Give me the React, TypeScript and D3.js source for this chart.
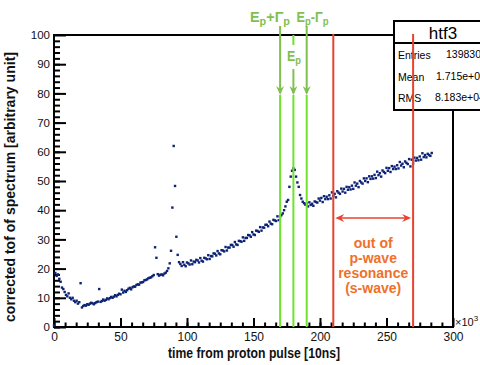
import React, { useEffect, useRef } from "react";
import * as d3 from "d3";

// spectrum bins, one per 1e3 x 10ns starting at 0
const binStart = 0;
const counts = [
  0.5, 18.5, 17.5, 18, 16.5, 15.5, 13.5, 13, 12, 11,
  10.5, 11.5, 10, 9.5, 10, 9, 8.5, 9, 8, 8.5,
  15, 6.7, 7.2, 7.5, 7.3, 7.8, 7.6, 8.0, 8.3, 8.1,
  7.8, 8.2, 8.5, 8.7, 13, 8.6, 8.9, 9.4, 9.0, 9.3,
  9.8, 9.5, 9.9, 10.3, 10.0, 10.4, 10.9, 10.5, 11.0, 11.4,
  11.2, 12.8, 11.8, 12.4, 12.0, 12.6, 13.1, 13.4, 12.9, 13.6,
  13.9, 13.8, 14.4, 14.6, 14.5, 15.2, 15.3, 15.4, 16.0, 16.1,
  16.3, 16.7, 16.9, 17.0, 17.4, 17.8, 27.3, 23.7, 18.1, 17.6,
  17.9, 18.0, 17.7, 18.3, 18.6, 19.2, 20.1, 21.8, 26.1, 40.9,
  62, 48.3, 30.9, 24.7, 22.2,
  21.6, 20.9, 22.2, 21.3, 20.8, 22.1, 21.8, 21.4, 22.8, 21.5,
  22.4, 22.2, 23.0, 22.8, 22.1, 23.6, 22.7, 22.4, 23.7, 23.5,
  23.2, 24.6, 23.3, 24.3, 24.2, 25.2, 25.1, 24.5, 26.0, 25.2,
  24.9, 26.3, 26.2, 25.9, 27.4, 26.2, 27.2, 27.2, 28.1, 28.1,
  27.5, 29.1, 28.3, 28.1, 29.5, 29.4, 29.2, 30.7, 29.5, 30.5,
  30.5, 31.5, 31.4, 30.9, 32.5, 31.7, 31.5, 33.0, 32.9, 32.6,
  34.2, 33.0, 34.1, 34.0, 35.0, 35.0, 34.5, 36.1, 35.4, 35.2,
  36.7, 36.5, 36.3, 37.9, 36.6,
  37.8, 38.3, 38.9, 40.0, 41.3, 42.9, 43.5, 48.0, 51.5, 53.5,
  54.3, 53.8, 51.5, 49.5, 48.0, 45.2, 44.0, 42.9, 42.4, 41.9,
  42.3, 41.3, 42.7, 41.8, 42.2, 41.5, 43.0, 42.8, 42.6, 44.0,
  43.3, 44.2, 42.8, 44.8, 43.8, 44.6, 43.8, 45.1, 44.0, 46.1,
  44.9, 45.6, 44.4, 46.5, 46.0, 45.6, 47.4, 46.4, 47.3, 46.0,
  48.0, 47.0, 47.9, 47.1, 48.4, 47.3, 49.5, 48.4, 49.1, 47.9,
  50.0, 49.5, 49.1, 50.9, 50.0, 50.9, 49.6, 51.6, 50.7, 51.6,
  50.8, 52.1, 51.0, 53.2, 52.0, 52.7, 51.5, 53.6, 53.1, 52.7,
  54.5, 53.5, 54.4, 53.1, 55.1, 54.1, 54.9, 54.1, 55.4, 54.3,
  56.5, 55.3, 55.9, 54.7, 56.7, 56.2, 55.8, 57.5, 55.0, 57.3,
  56.0, 58.0, 57.0, 57.9, 57.1, 58.4, 57.3, 59.5, 58.2, 58.9,
  58.1, 59.3, 58.9, 58.6, 59.6,
];

const xMajorTicks = [0, 50, 100, 150, 200, 250, 300];
const yMajorTicks = [0, 10, 20, 30, 40, 50, 60, 70, 80, 90, 100];
const resonanceTimes = [170, 180, 190]; // Ep+Γp, Ep, Ep-Γp
const swaveTimes = [210, 270];
const statLabels = ["Entries", "Mean", "RMS"];
const statValues = ["139830", "1.715e+05", "8.183e+04"];
const swaveText = ["out of", "p-wave", "resonance", "(s-wave)"];

const W = 480;
const H = 365;
const FONT = "'Liberation Sans', Arial, Helvetica, sans-serif";
const NARROW = "'Liberation Sans Narrow', 'Liberation Sans', Arial, sans-serif";

const App = () => {
  const svgRef = useRef<SVGSVGElement | null>(null);

  useEffect(() => {
    const svg = d3.select(svgRef.current);
    svg.selectAll("*").remove();

    const x = d3.scaleLinear().domain([0, 300]).range([54, 453]);
    const y = d3.scaleLinear().domain([0, 100]).range([327, 35]);

    svg.append("rect").attr("width", W).attr("height", H).attr("fill", "#fff");

    // minor ticks
    svg.append("g")
      .attr("transform", `translate(0,${y(0)})`)
      .call(d3.axisBottom(x).tickValues(d3.range(0, 300, 50 / 6)).tickSize(-4.5).tickFormat(() => ""))
      .call(g => g.select(".domain").remove())
      .selectAll("line").attr("stroke", "#000").attr("stroke-width", 2);
    svg.append("g")
      .attr("transform", `translate(${x(0)},0)`)
      .call(d3.axisLeft(y).tickValues(d3.range(0, 100, 2)).tickSize(-6).tickFormat(() => ""))
      .call(g => g.select(".domain").remove())
      .selectAll("line").attr("stroke", "#000").attr("stroke-width", 2);

    // x-axis
    const gx = svg.append("g")
      .attr("transform", `translate(0,${y(0)})`)
      .call(d3.axisBottom(x).tickValues(xMajorTicks).tickSize(-9).tickPadding(5).tickFormat(d3.format("d")));
    gx.select(".domain").remove();
    gx.selectAll("line").attr("stroke", "#000").attr("stroke-width", 2);
    gx.selectAll("text").attr("font-family", FONT).attr("font-size", 12).attr("fill", "#111");

    // y-axis
    const gy = svg.append("g")
      .attr("transform", `translate(${x(0)},0)`)
      .call(d3.axisLeft(y).tickValues(yMajorTicks).tickSize(-12).tickPadding(4).tickFormat(d3.format("d")));
    gy.select(".domain").remove();
    gy.selectAll("line").attr("stroke", "#000").attr("stroke-width", 2);
    gy.selectAll("text").attr("font-family", FONT).attr("font-size", 11.5).attr("fill", "#111");

    // frame
    svg.append("rect")
      .attr("x", x(0)).attr("y", y(100))
      .attr("width", x(300) - x(0)).attr("height", y(0) - y(100))
      .attr("fill", "none").attr("stroke", "#000").attr("stroke-width", 2);

    // x10^3
    const exp = svg.append("text")
      .attr("x", x(300) + 2).attr("y", y(0) - 1)
      .attr("font-family", FONT).attr("font-size", 11).attr("fill", "#111");
    exp.append("tspan").text("×10");
    exp.append("tspan").attr("dy", -5).attr("font-size", 8).text("3");

    // axis titles
    svg.append("text")
      .attr("x", 254).attr("y", 358)
      .attr("text-anchor", "middle")
      .attr("font-family", NARROW).attr("font-size", 14).attr("font-weight", "bold")
      .attr("textLength", 172).attr("lengthAdjust", "spacingAndGlyphs")
      .attr("fill", "#111")
      .text("time from proton pulse [10ns]");
    svg.append("text")
      .attr("transform", `translate(15,187) rotate(-90)`)
      .attr("text-anchor", "middle")
      .attr("font-family", NARROW).attr("font-size", 14).attr("font-weight", "bold")
      .attr("textLength", 270).attr("lengthAdjust", "spacingAndGlyphs")
      .attr("fill", "#111")
      .text("corrected tof of spectrum [arbitrary unit]");

    // data points
    svg.append("g")
      .selectAll("rect")
      .data(counts)
      .join("rect")
      .attr("x", (d, i) => x(binStart + i) - 1.2)
      .attr("y", d => y(d) - 1.2)
      .attr("width", 2.4)
      .attr("height", 2.4)
      .attr("fill", "#0d2373");

    // green resonance lines
    const arrowY = 95;
    const darkGreen = "#7fc04f";
    const brightGreen = "#6fe22a";
    const tops = [26, 69, 26];
    resonanceTimes.forEach((t, i) => {
      const px = x(t);
      svg.append("line")
        .attr("x1", px).attr("x2", px).attr("y1", arrowY).attr("y2", y(0))
        .attr("stroke", brightGreen).attr("stroke-width", 2);
      if (i === 1) {
        svg.append("line")
          .attr("x1", px).attr("x2", px).attr("y1", y(100)).attr("y2", 45)
          .attr("stroke", brightGreen).attr("stroke-width", 2);
      }
      svg.append("line")
        .attr("x1", px).attr("x2", px).attr("y1", tops[i]).attr("y2", arrowY - 2)
        .attr("stroke", darkGreen).attr("stroke-width", 2);
      svg.append("path")
        .attr("d", `M${px - 4},${arrowY - 9} L${px},${arrowY} L${px + 4},${arrowY - 9} L${px},${arrowY - 6} Z`)
        .attr("fill", darkGreen);
    });

    const addE = (cx: number, cy: number, sign: string | null, size: number, len: number) => {
      const t = svg.append("text")
        .attr("x", cx).attr("y", cy)
        .attr("text-anchor", "middle")
        .attr("font-family", NARROW).attr("font-size", size)
        .attr("font-weight", "bold").attr("fill", darkGreen)
        .attr("textLength", len).attr("lengthAdjust", "spacingAndGlyphs");
      t.append("tspan").text("E");
      t.append("tspan").attr("dy", 3).attr("font-size", size * 0.75).text("p");
      if (sign) {
        t.append("tspan").attr("dy", -3).text(sign + "Γ");
        t.append("tspan").attr("dy", 3).attr("font-size", size * 0.75).text("p");
      }
    };
    addE(270, 22, "+", 14, 40);
    addE(x(resonanceTimes[1]) + 0.5, 61, null, 15, 14);
    addE(312.5, 22, "-", 14, 32);

    // stats box
    const bx = 394;
    svg.append("rect")
      .attr("x", bx).attr("y", 21).attr("width", 120).attr("height", 89)
      .attr("fill", "#fff").attr("stroke", "#000").attr("stroke-width", 2);
    svg.append("line")
      .attr("x1", bx).attr("x2", W).attr("y1", 43).attr("y2", 43)
      .attr("stroke", "#000").attr("stroke-width", 2);
    svg.append("text")
      .attr("x", 443).attr("y", 39)
      .attr("text-anchor", "middle")
      .attr("font-family", FONT).attr("font-size", 17).attr("fill", "#000")
      .text("htf3");
    const valueX = [446, 436, 435];
    statLabels.forEach((s, i) => {
      svg.append("text")
        .attr("x", bx + 4).attr("y", 59 + i * 21.5)
        .attr("font-family", FONT).attr("font-size", 10.5).attr("fill", "#000")
        .text(s);
      svg.append("text")
        .attr("x", valueX[i]).attr("y", 58 + i * 21.5)
        .attr("font-family", FONT).attr("font-size", 10.5).attr("fill", "#000")
        .text(statValues[i]);
    });

    // red s-wave lines
    const red = "#e8432f";
    swaveTimes.forEach(t => {
      svg.append("line")
        .attr("x1", x(t)).attr("x2", x(t)).attr("y1", y(100) - 1).attr("y2", y(0))
        .attr("stroke", red).attr("stroke-width", 2);
    });
    const ay = 218;
    const ax1 = x(swaveTimes[0]) + 2;
    const ax2 = x(swaveTimes[1]) - 2;
    svg.append("line")
      .attr("x1", ax1 + 4).attr("x2", ax2 - 4).attr("y1", ay).attr("y2", ay)
      .attr("stroke", red).attr("stroke-width", 1.6);
    svg.append("path")
      .attr("d", `M${ax1},${ay} L${ax1 + 9},${ay - 4} L${ax1 + 6},${ay} L${ax1 + 9},${ay + 4} Z`)
      .attr("fill", red);
    svg.append("path")
      .attr("d", `M${ax2},${ay} L${ax2 - 9},${ay - 4} L${ax2 - 6},${ay} L${ax2 - 9},${ay + 4} Z`)
      .attr("fill", red);

    const cx = (x(swaveTimes[0]) + x(swaveTimes[1])) / 2;
    svg.append("g")
      .selectAll("text")
      .data(swaveText)
      .join("text")
      .attr("x", cx)
      .attr("y", (d, i) => 248 + i * 15)
      .attr("text-anchor", "middle")
      .attr("font-family", NARROW).attr("font-size", 14).attr("font-weight", "bold")
      .attr("fill", "#f0702a")
      .text(d => d);
  }, []);

  return (
    <div style={{ position: "fixed", left: 0, top: 0 }}>
      <svg ref={svgRef} width={W} height={H} style={{ display: "block" }} />
    </div>
  );
};

export default App;
